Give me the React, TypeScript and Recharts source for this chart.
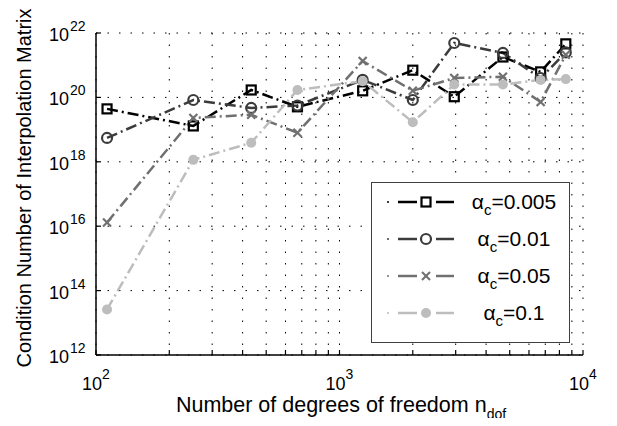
import { CartesianGrid, Legend, Line, LineChart, XAxis, YAxis } from "recharts";

// degrees of freedom (x) shared by all four runs
const nDof = [111, 251, 434, 672, 1245, 2000, 2960, 4690, 6700, 8500];

// condition numbers per alpha_c
const cond005 = [4.4e19, 1.3e19, 1.7e20, 5.1e19, 1.6e20, 7e20, 1.05e20, 1.8e21, 6.2e20, 4.6e21];
const cond01 = [5.5e18, 8.3e19, 4.7e19, 5.6e19, 3.5e20, 8.3e19, 4.9e21, 2.4e21, 4e20, 2.5e21];
const cond05 = [1.3e16, 2.3e19, 2.9e19, 8e18, 1.35e21, 1.6e20, 4e20, 4.4e20, 7.2e19, 2.1e21];
const cond1 = [2.6e13, 1.15e18, 3.9e18, 1.7e20, 3.2e20, 1.7e19, 2.5e20, 2.5e20, 3.5e20, 3.7e20];

const alphaLabels = ["0.005", "0.01", "0.05", "0.1"];

const xTicks = [100, 200, 300, 400, 500, 600, 700, 800, 900, 1000, 2000, 3000, 4000, 5000, 6000, 7000, 8000, 9000, 10000];
const yTicks = [1e12, 1e14, 1e16, 1e18, 1e20, 1e22];

const FONT = "'Liberation Sans', Arial, sans-serif";
const DASH = "11 4 2 4";

const series = [
  { name: alphaLabels[0], values: cond005, color: "#000000", marker: "square" },
  { name: alphaLabels[1], values: cond01, color: "#3c3c3c", marker: "circle" },
  { name: alphaLabels[2], values: cond05, color: "#707070", marker: "cross" },
  { name: alphaLabels[3], values: cond1, color: "#bdbdbd", marker: "dot" },
];

function Marker({ cx, cy, kind, color }: any) {
  if (cx == null || cy == null) return null;
  if (kind === "square")
    return <rect x={cx - 4.5} y={cy - 4.5} width={9} height={9} fill="none" stroke={color} strokeWidth={2.2} />;
  if (kind === "circle")
    return <circle cx={cx} cy={cy} r={5} fill="none" stroke={color} strokeWidth={2.2} />;
  if (kind === "cross")
    return (
      <g stroke={color} strokeWidth={2.2}>
        <line x1={cx - 4} y1={cy - 4} x2={cx + 4} y2={cy + 4} />
        <line x1={cx - 4} y1={cy + 4} x2={cx + 4} y2={cy - 4} />
      </g>
    );
  return <circle cx={cx} cy={cy} r={5} fill={color} stroke="none" />;
}

function XTick({ x, y, payload }: any) {
  const v = payload.value;
  const exp = Math.round(Math.log10(v));
  const major = Math.abs(Math.pow(10, exp) - v) < 1e-6;
  return (
    <g>
      <line x1={x} x2={x} y1={y} y2={y - 5} stroke="#000" strokeWidth={1.2} />
      {major && (
        <text x={x} y={y + 35} textAnchor="middle" fontSize={18} fontFamily={FONT} fill="#000">
          10<tspan dy={-11} fontSize={14}>{exp}</tspan>
        </text>
      )}
    </g>
  );
}

function YTick({ x, y, payload }: any) {
  const exp = Math.round(Math.log10(payload.value));
  return (
    <g>
      <line x1={x} x2={x + 5} y1={y} y2={y} stroke="#000" strokeWidth={1.2} />
      <text x={x - 27} y={y + 8} textAnchor="end" fontSize={18} fontFamily={FONT} fill="#000">
        10
      </text>
      <text x={x - 26} y={y - 2} textAnchor="start" fontSize={14} fontFamily={FONT} fill="#000">
        {exp}
      </text>
    </g>
  );
}

function LegendBox() {
  return (
    <div
      style={{
        width: 199,
        height: 161,
        border: "1.5px solid #404040",
        background: "#fff",
        fontFamily: FONT,
        paddingTop: 0,
        boxSizing: "border-box",
      }}
    >
      {series.map((s) => (
        <div key={s.name} style={{ display: "flex", alignItems: "center", height: 37 }}>
          <svg width={90} height={20} style={{ flex: "none" }}>
            <circle cx={16} cy={10} r={1} fill={s.color} />
            <line x1={26} x2={45} y1={10} y2={10} stroke={s.color} strokeWidth={2.5} />
            <line x1={64} x2={82} y1={10} y2={10} stroke={s.color} strokeWidth={2.5} />
            <Marker cx={54} cy={10} kind={s.marker} color={s.color} />
          </svg>
          <div style={{ width: 104, textAlign: "center", fontSize: 21, color: "#000", whiteSpace: "nowrap" }}>
            α<span style={{ fontSize: 15, position: "relative", top: 6 }}>c</span>=0.{s.name.slice(2)}
          </div>
        </div>
      ))}
    </div>
  );
}

export default function App() {
  return (
    <div style={{ position: "relative", width: 601, height: 410, fontFamily: FONT }}>
      <LineChart width={601} height={410} margin={{ top: 25, right: 26, bottom: 23, left: 18 }}>
        <CartesianGrid stroke="#000" strokeDasharray="1.5 10" strokeWidth={1} horizontalValues={yTicks} verticalValues={xTicks} />
        <XAxis
          type="number"
          dataKey="x"
          scale="log"
          domain={[100, 10000]}
          ticks={xTicks}
          allowDataOverflow
          height={40}
          tickSize={0}
          tickMargin={0}
          tickLine={false}
          tick={<XTick />}
          stroke="#000"
          strokeWidth={1.5}
          interval={0}
        />
        <YAxis
          type="number"
          dataKey="y"
          scale="log"
          domain={[1e12, 1e22]}
          ticks={yTicks}
          allowDataOverflow
          width={70}
          tickSize={0}
          tickMargin={0}
          tickLine={false}
          tick={<YTick />}
          stroke="#000"
          strokeWidth={1.5}
          interval={0}
        />
        {series.map((s) => (
          <Line
            key={s.name}
            data={nDof.map((x, i) => ({ x, y: s.values[i] }))}
            dataKey="y"
            type="linear"
            stroke={s.color}
            strokeWidth={2.5}
            strokeDasharray={DASH}
            isAnimationActive={false}
            dot={(p: any) => <Marker key={p.index} cx={p.cx} cy={p.cy} kind={s.marker} color={s.color} />}
            activeDot={false}
          />
        ))}
        <Legend
          layout="vertical"
          align="center"
          verticalAlign="middle"
          wrapperStyle={{ left: 363, top: 174, width: 200 }}
          content={() => <LegendBox />}
        />
      </LineChart>
      <div
        style={{
          position: "absolute",
          left: 16,
          top: 180,
          transform: "translate(-50%, -50%) rotate(-90deg)",
          whiteSpace: "nowrap",
          fontSize: 20,
          lineHeight: "24px",
          color: "#000",
        }}
      >
        Condition Number of Interpolation Matrix
      </div>
      <div
        style={{
          position: "absolute",
          left: 333,
          top: 385,
          transform: "translateX(-50%)",
          whiteSpace: "nowrap",
          fontSize: 21.5,
          lineHeight: "24px",
          color: "#000",
        }}
      >
        Number of degrees of freedom n<span style={{ fontSize: 14, position: "relative", top: 7 }}>dof</span>
      </div>
    </div>
  );
}
